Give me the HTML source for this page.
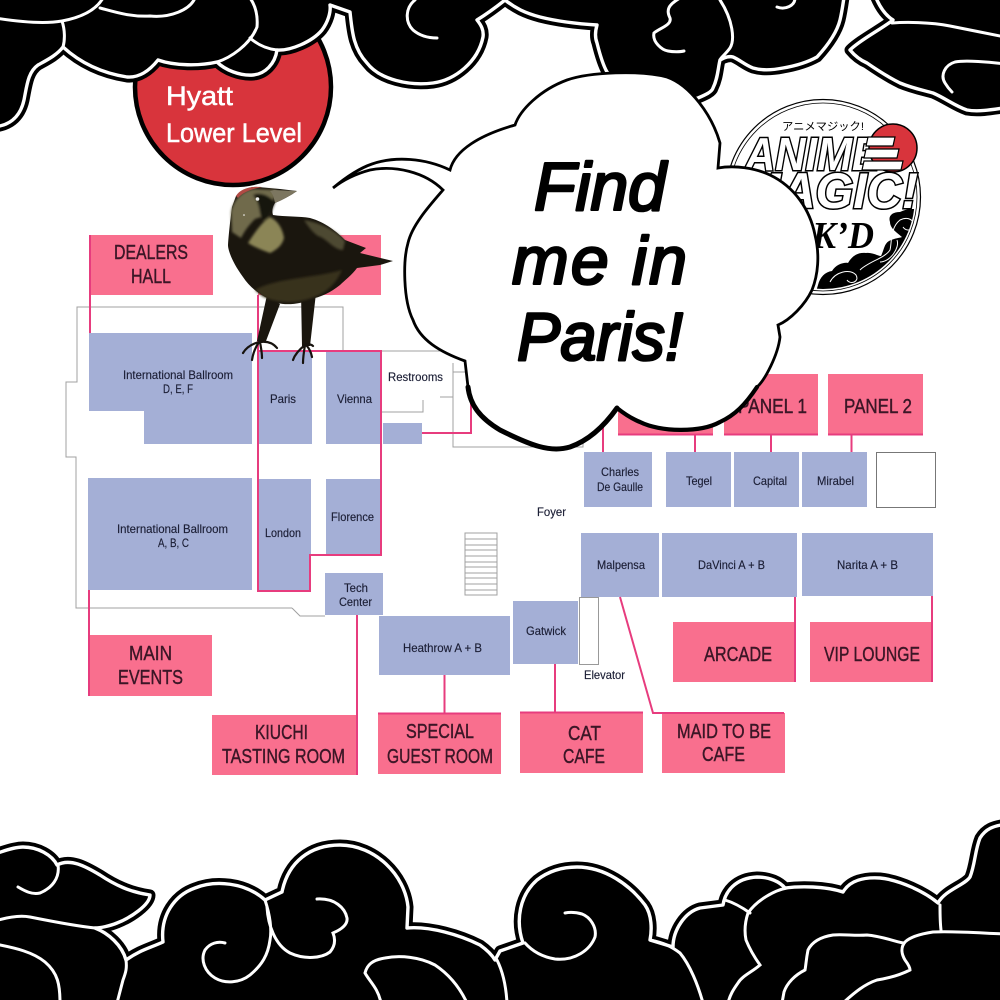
<!DOCTYPE html>
<html><head><meta charset="utf-8"><title>Hyatt Lower Level</title>
<style>html,body{margin:0;padding:0;background:#fff}svg{display:block}
text{font-family:"Liberation Sans","Noto Sans CJK JP",sans-serif}
.r{font-size:12px;fill:#1b1e35;stroke:#1b1e35;stroke-width:.15}
.p{font-size:20px;fill:#3b1626;stroke:#3b1626;stroke-width:.4}
.l{fill:none;stroke:#e73c7e;stroke-width:2}
.g{fill:none;stroke:#a0a0a0;stroke-width:1;shape-rendering:crispEdges}
.b{fill:#a4afd6}.k{fill:#f96f8e}
.w{fill:none;stroke:#fff;stroke-width:3;stroke-linecap:round}
.s{fill:#000;stroke:#000;stroke-width:11;stroke-linejoin:round}
.t{fill:#000;stroke:#fff;stroke-width:3.4;stroke-linejoin:round}
.f{font-style:italic;font-size:68px;fill:#000;stroke:#000;stroke-width:2.6;stroke-linejoin:round}
.h{font-size:27px;fill:#fff;stroke:#fff;stroke-width:.5}
</style></head><body>
<svg width="1000" height="1000" viewBox="0 0 1000 1000" xmlns="http://www.w3.org/2000/svg">
<defs>
<filter id="bl" x="-10%" y="-10%" width="120%" height="120%"><feGaussianBlur stdDeviation="1.2"/></filter>
<clipPath id="ring"><circle cx="823" cy="197" r="92"/></clipPath>
<path id="bc" d="M-10,856 C5,850 15,847 23,847 C38,847 52,855 57,865 C70,858 85,866 100,875 C115,885 130,892 150,895 C150,905 130,918 117,923 C110,926 100,928 95,928 C108,933 122,945 126,960 C140,950 150,948 163,942 C160,915 175,895 195,888 C215,880 245,882 265,900 L282,892 C288,862 310,845 340,845 C375,845 405,875 408,907 L407,928 C430,926 460,935 480,945 C487,950 492,955 495,960 L500,951 L523,943 C515,920 520,895 537,880 C550,870 565,867 577,867 C605,867 630,885 645,905 C652,915 652,930 650,940 L673,947 C673,930 685,912 700,908 L723,905 C725,892 735,878 757,877 C770,877 780,882 785,888 C800,886 825,886 843,892 C850,880 865,877 880,878 C900,880 925,892 938,903 C945,890 965,885 970,877 C975,865 975,850 980,838 C985,830 992,825 1010,824 L1010,1010 L-10,1010 Z"/>
<path id="tc1" d="M-10,127 C8,127 20,118 24,100 C27,85 28,72 38,65 C47,60 57,55 63,47 C75,58 95,72 127,77 C140,78 150,70 158,60 C175,66 200,66 217,62 C225,70 240,76 253,75 C265,74 275,64 277,50 C290,51 312,42 322,30 C328,22 331,12 330,5 L350,12 C352,30 353,48 367,63 C380,80 410,86 433,83 C455,80 478,62 483,37 C484,30 481,25 477,20 C485,15 495,8 505,0 C515,8 525,13 540,17 C560,22 580,24 597,25 C595,32 595,38 597,43 C600,55 603,65 607,72 C620,88 640,110 698,98 C705,95 712,92 713,88 C718,78 718,68 720,60 C725,57 730,56 733,57 C740,60 745,65 753,68 C763,71 773,70 783,68 C795,66 808,62 817,57 C828,45 837,32 840,20 C842,12 843,5 845,-10 L-10,-10 Z"/>
<path id="tc2" d="M873,-10 C878,5 885,15 893,20 C880,30 860,40 850,50 C855,56 860,60 867,63 C880,72 890,78 900,83 C912,88 922,90 933,93 C945,98 955,106 967,110 C978,112 990,110 1010,107 L1010,-10 Z"/>
</defs>
<rect width="1000" height="1000" fill="#fff"/>

<!-- gray plan lines -->
<path class="g" d="M343,350 L343,307 L77,307 L77,382 L66,382 L66,457 L76,457 L76,608 L292,608"/>
<path d="M292,608 L300,616 L325,616" fill="none" stroke="#a0a0a0"/>
<path class="g" d="M343,351 L466,351 M381,412 L423,412 L423,400 M440,397 L453,397 M453,363 L453,447 L583,447 L583,440 M453,372 L466,372"/>
<path class="g" d="M465,533 H497 V595 H465 Z M465,539 H497 M465,545 H497 M465,550 H497 M465,556 H497 M465,562 H497 M465,567 H497 M465,573 H497 M465,578 H497 M465,584 H497 M465,590 H497"/>

<!-- pink label boxes -->
<rect class="k" x="89" y="235" width="124" height="60"/>
<rect class="k" x="258" y="235" width="123" height="60"/>
<rect class="k" x="88" y="635" width="124" height="61"/>
<rect class="k" x="212" y="715" width="145" height="60"/>
<rect class="k" x="378" y="713" width="123" height="61"/>
<rect class="k" x="520" y="712" width="123" height="61"/>
<rect class="k" x="662" y="713" width="123" height="60"/>
<rect class="k" x="673" y="622" width="123" height="60"/>
<rect class="k" x="810" y="622" width="123" height="60"/>
<rect class="k" x="618" y="374" width="95" height="61"/>
<rect class="k" x="724" y="374" width="94" height="61"/>
<rect class="k" x="828" y="374" width="95" height="61"/>

<!-- blue rooms -->
<path class="b" d="M89,333 H252 V444 H144 V411 H89 Z"/>
<rect class="b" x="258" y="351" width="54" height="93"/>
<rect class="b" x="326" y="351" width="55" height="93"/>
<rect class="b" x="383" y="423" width="39" height="21"/>
<rect class="b" x="88" y="478" width="164" height="112"/>
<rect class="b" x="258" y="479" width="53" height="111"/>
<rect class="b" x="326" y="479" width="55" height="75"/>
<rect class="b" x="325" y="573" width="58" height="42"/>
<rect class="b" x="379" y="616" width="131" height="59"/>
<rect class="b" x="513" y="601" width="65" height="63"/>
<rect class="b" x="581" y="533" width="78" height="64"/>
<rect class="b" x="662" y="533" width="135" height="64"/>
<rect class="b" x="802" y="533" width="131" height="63"/>
<rect class="b" x="584" y="452" width="68" height="55"/>
<rect class="b" x="666" y="452" width="65" height="55"/>
<rect class="b" x="734" y="452" width="65" height="55"/>
<rect class="b" x="802" y="452" width="65" height="55"/>
<rect x="876.500" y="452.500" width="59" height="55" fill="#fff" stroke="#777" stroke-width="1"/>
<rect x="579.500" y="597.500" width="19" height="67" fill="#fff" stroke="#999" stroke-width="1"/>

<!-- pink connectors -->
<path class="l" d="M90,235 V333 M258,295 V591 H310 V555 H381 V351 H258 M89,590 V696 M357,615 V775 M444.500,675 V713 M378,713.500 H501 M555,664 V712 M520,712.500 H643 M620,597 L653,713 H784 M795,597 V682 M932,596 V682 M422,433 H471 V400 M603,425 V452 M695,434 V452 M771,434 V452 M851.500,434 V452 M618,434.500 H713 M724,434.500 H818 M828,434.500 H923"/>

<!-- room labels -->
<text class="r" x="123" y="379" textLength="110" lengthAdjust="spacingAndGlyphs">International Ballroom</text>
<text class="r" x="163" y="393" textLength="30" lengthAdjust="spacingAndGlyphs">D, E, F</text>
<text class="r" x="270" y="403" textLength="26" lengthAdjust="spacingAndGlyphs">Paris</text>
<text class="r" x="337" y="403" textLength="35" lengthAdjust="spacingAndGlyphs">Vienna</text>
<text class="r" x="388" y="381" textLength="55" lengthAdjust="spacingAndGlyphs">Restrooms</text>
<text class="r" x="117" y="533" textLength="111" lengthAdjust="spacingAndGlyphs">International Ballroom</text>
<text class="r" x="158" y="547" textLength="31" lengthAdjust="spacingAndGlyphs">A, B, C</text>
<text class="r" x="265" y="537" textLength="36" lengthAdjust="spacingAndGlyphs">London</text>
<text class="r" x="331" y="521" textLength="43" lengthAdjust="spacingAndGlyphs">Florence</text>
<text class="r" x="344" y="592" textLength="24" lengthAdjust="spacingAndGlyphs">Tech</text>
<text class="r" x="339" y="606" textLength="33" lengthAdjust="spacingAndGlyphs">Center</text>
<text class="r" x="403" y="652" textLength="79" lengthAdjust="spacingAndGlyphs">Heathrow A + B</text>
<text class="r" x="526" y="635" textLength="40" lengthAdjust="spacingAndGlyphs">Gatwick</text>
<text class="r" x="597" y="569" textLength="48" lengthAdjust="spacingAndGlyphs">Malpensa</text>
<text class="r" x="698" y="569" textLength="67" lengthAdjust="spacingAndGlyphs">DaVinci A + B</text>
<text class="r" x="837" y="569" textLength="61" lengthAdjust="spacingAndGlyphs">Narita A + B</text>
<text class="r" x="601" y="476" textLength="38" lengthAdjust="spacingAndGlyphs">Charles</text>
<text class="r" x="597" y="491" textLength="46" lengthAdjust="spacingAndGlyphs">De Gaulle</text>
<text class="r" x="686" y="485" textLength="26" lengthAdjust="spacingAndGlyphs">Tegel</text>
<text class="r" x="753" y="485" textLength="34" lengthAdjust="spacingAndGlyphs">Capital</text>
<text class="r" x="817" y="485" textLength="37" lengthAdjust="spacingAndGlyphs">Mirabel</text>
<text class="r" x="537" y="516" textLength="29" lengthAdjust="spacingAndGlyphs">Foyer</text>
<text class="r" x="584" y="679" textLength="41" lengthAdjust="spacingAndGlyphs">Elevator</text>

<!-- pink labels -->
<text class="p" x="114" y="259" textLength="74" lengthAdjust="spacingAndGlyphs">DEALERS</text>
<text class="p" x="131" y="283" textLength="40" lengthAdjust="spacingAndGlyphs">HALL</text>
<text class="p" x="129" y="660" textLength="43" lengthAdjust="spacingAndGlyphs">MAIN</text>
<text class="p" x="118" y="684" textLength="65" lengthAdjust="spacingAndGlyphs">EVENTS</text>
<text class="p" x="255" y="739" textLength="53" lengthAdjust="spacingAndGlyphs">KIUCHI</text>
<text class="p" x="222" y="763" textLength="123" lengthAdjust="spacingAndGlyphs">TASTING ROOM</text>
<text class="p" x="406" y="738" textLength="68" lengthAdjust="spacingAndGlyphs">SPECIAL</text>
<text class="p" x="387" y="763" textLength="106" lengthAdjust="spacingAndGlyphs">GUEST ROOM</text>
<text class="p" x="568" y="740" textLength="33" lengthAdjust="spacingAndGlyphs">CAT</text>
<text class="p" x="563" y="763" textLength="42" lengthAdjust="spacingAndGlyphs">CAFE</text>
<text class="p" x="677" y="738" textLength="94" lengthAdjust="spacingAndGlyphs">MAID TO BE</text>
<text class="p" x="702" y="761" textLength="43" lengthAdjust="spacingAndGlyphs">CAFE</text>
<text class="p" x="704" y="661" textLength="68" lengthAdjust="spacingAndGlyphs">ARCADE</text>
<text class="p" x="824" y="661" textLength="96" lengthAdjust="spacingAndGlyphs">VIP LOUNGE</text>
<text class="p" x="738" y="413" textLength="69" lengthAdjust="spacingAndGlyphs">PANEL 1</text>
<text class="p" x="844" y="413" textLength="68" lengthAdjust="spacingAndGlyphs">PANEL 2</text>

<!-- red circle -->
<circle cx="233" cy="87" r="98" fill="#d8343c" stroke="#000" stroke-width="4.500"/>
<text class="h" x="166" y="105" textLength="67" lengthAdjust="spacingAndGlyphs">Hyatt</text>
<text class="h" x="166" y="142" textLength="136" lengthAdjust="spacingAndGlyphs">Lower Level</text>

<!-- top clouds -->
<use href="#tc1" class="s"/><use href="#tc2" class="s"/>
<use href="#tc1" class="t"/><use href="#tc2" class="t"/>
<path class="w" d="M-5,18 C20,22 45,24 62,21 C78,18 95,12 103,-2 M62,21 C65,30 65,40 63,47 M100,8 C115,12 130,17 150,16 C170,18 190,10 195,-2 M250,38 C258,45 268,49 277,50 M217,62 C230,58 250,45 257,27 C258,15 255,5 250,-2 M415,0 C405,8 405,22 413,30 C420,36 428,38 437,38 M680,-2 C668,5 666,10 670,18 C672,25 660,28 654,33 C652,42 662,50 668,51 C673,52 680,52 684,51 M720,0 C733,20 735,40 730,48 C725,55 720,58 720,60 M777,7 C785,10 795,6 795,-2 M892,23 C905,22 930,22 950,26 C970,30 985,33 1005,37 M1005,64 C990,62 965,60 955,62 C945,65 940,75 945,83 C948,88 950,90 952,92"/>

<!-- bottom clouds -->
<use href="#bc" class="s"/><use href="#bc" class="t"/>
<path class="w" d="M58,865 C60,878 52,888 40,893 C32,895 25,891 18,887 M-5,921 C8,917 20,915 30,917 C50,921 75,926 95,928 M126,960 C127,968 126,972 123,980 L117,1003 M0,945 C15,948 33,952 45,962 C58,973 60,985 60,1003 M265,900 C270,915 272,930 270,940 C268,955 262,965 250,975 C240,983 225,984 215,978 C205,972 200,960 205,950 C210,943 218,941 225,943 M267,907 C268,925 275,945 290,953 C305,960 322,958 330,952 C336,945 335,938 333,933 C340,930 348,925 347,918 C345,908 335,898 317,899 M497,960 C503,972 506,985 507,1003 M365,973 C367,965 372,960 385,958 C400,955 420,957 435,965 C450,975 460,988 467,1003 M365,973 C370,982 378,988 381,1003 M650,940 C665,943 672,947 680,953 C690,965 698,985 703,1003 M525,943 C533,952 543,957 555,959 C575,961 590,950 595,937 C597,927 590,917 582,914 C575,912 570,912 565,913 M725,900 C735,903 743,908 750,913 M787,888 C775,890 757,900 748,913 C745,922 744,930 746,940 C750,950 755,958 760,965 C752,972 742,976 738,983 C733,990 730,995 728,1003 M940,905 C940,915 940,922 941,930 M903,943 C890,940 880,936 867,935 C855,936 843,934 833,935 C820,937 812,942 808,950 C806,960 806,965 805,970 C795,975 787,983 784,992 L782,1003 M1005,934 C980,933 955,931 933,932 C920,934 910,937 905,942 C900,948 902,955 905,960 C908,964 910,967 910,970 C900,975 890,978 877,980 C865,984 855,992 843,1003"/>

<!-- crow -->
<g>
<path fill="#1a160e" d="M267,295 L280,304 L266,341 L257,341 Z M301,292 L316,293 L310,346 L302,346 Z"/>
<path fill="#1a160e" d="M236,196 C241,190 250,186 258,187 L280,189 L297,191 C290,196 282,200 275,203 C272,207 272,212 273,215 C285,217 300,216 310,218 C325,222 337,232 345,240 L366,248 L360,253 L393,261 L380,265 L357,268 C352,275 345,280 340,285 C330,293 322,296 315,298 C300,305 285,305 278,303 C262,297 250,288 243,277 C232,262 228,250 228,245 C229,230 231,215 232,207 Z"/>
<g filter="url(#bl)">
<path fill="#6f6a4c" d="M231,212 C234,198 244,190 254,189 L277,190 C274,198 271,208 270,214 L255,219 C250,224 245,230 241,238 L232,232 Z"/>
<path fill="#8b8557" d="M248,243 C255,232 262,222 270,217 C276,220 282,226 284,238 C282,246 276,250 270,253 C262,250 254,247 248,243 Z"/>
<path fill="#17130e" d="M253,195 C258,192 268,194 275,202 C272,210 270,216 264,221 C258,218 262,205 253,195 Z"/>
<path fill="#4d4832" d="M304,220 C322,223 338,232 345,241 L343,250 C334,250 326,238 318,236 C312,232 308,226 304,220 Z"/>
<path fill="#38331a" d="M255,290 C275,278 315,278 342,270 C336,284 325,294 312,298 C295,304 275,303 262,296 Z"/>
</g>
<path fill="#7c7660" d="M274,190 L297,191 C290,196 282,200 275,203 C274,198 273,194 270,191 Z"/>
<path fill="#b04a44" d="M236,196 C240,189 250,186 262,187 C252,189 243,192 238,198 Z"/>
<circle cx="257.500" cy="199" r="1.800" fill="#eee"/>
<circle cx="244" cy="215" r="0.800" fill="#fff"/>
<path fill="none" stroke="#17130e" stroke-width="2.200" stroke-linecap="round" d="M259,342 C252,344 246,348 243,353 M259,342 C255,348 253,353 252,360 M260,342 C261,348 262,352 262,358 M260,342 C267,341 273,343 277,348 M305,345 C300,349 295,354 293,360 M305,345 C304,351 303,357 303,363 M306,345 C309,348 311,352 312,357 M306,344 C309,344 312,345 313,346"/>
</g>

<!-- logo -->
<circle cx="823" cy="197" r="97.500" fill="#fff" stroke="#000" stroke-width="1.200"/>
<circle cx="823" cy="197" r="94" fill="#fff" stroke="#000" stroke-width="0.800"/>
<g clip-path="url(#ring)">
<path fill="#000" d="M815,295 L818,285 C820,277 825,272 832,271 C836,264 845,262 848,263 C852,256 858,252 866,253 C872,252 878,256 881,256 C884,250 884,244 889,241 C895,238 900,238 902,237 C896,232 890,228 890,222 C888,216 892,212 900,212 C906,209 912,208 925,210 L925,300 Z"/>
<path fill="none" stroke="#fff" stroke-width="1" d="M830,282 C835,272 850,268 856,275 C860,282 850,285 847,280 M860,270 C868,262 885,258 890,250 C892,242 890,228 900,220 C908,216 915,220 913,227 C910,232 905,230 903,227 M880,262 C890,262 900,248 897,240 M905,245 C900,252 910,258 916,240"/>
</g>
<circle cx="893" cy="148" r="24" fill="#d8343c" stroke="#000" stroke-width="1.500"/>
<text x="782" y="130" font-size="11" fill="#000" textLength="82" lengthAdjust="spacingAndGlyphs">アニメマジック!</text>
<text x="745" y="170" font-size="46" font-weight="bold" font-style="italic" fill="#fff" stroke="#000" stroke-width="3" paint-order="stroke" textLength="135" lengthAdjust="spacingAndGlyphs">ANIME</text>
<path fill="#fff" stroke="#000" stroke-width="1.200" d="M868,137 H895 L893,146 H866 Z M866,149 H899 L897,158 H864 Z M864,161 H903 L901,170 H862 Z"/>
<text x="740" y="208" font-size="50" font-weight="bold" font-style="italic" fill="#fff" stroke="#000" stroke-width="3" paint-order="stroke" textLength="178" lengthAdjust="spacingAndGlyphs">MAGIC!</text>
<text x="812" y="248" font-size="38" font-weight="bold" font-style="italic" fill="#000" style="font-family:'Liberation Serif',serif" textLength="62" lengthAdjust="spacingAndGlyphs">K’D</text>

<!-- speech bubble -->
<path fill="#fff" stroke="#000" stroke-width="2.800" stroke-linejoin="miter" d="M333,188 C345,178 360,168 372,164 C395,156 425,158 450,170 C455,150 480,135 515,125 C520,110 540,90 567,80 C590,72 640,70 667,77 C690,85 712,115 720,143 L718,168 C735,165 755,168 770,175 C795,187 810,210 815,235 C820,255 818,275 812,290 C805,305 790,320 778,325 L780,337 C778,355 765,380 757,387 C745,405 735,415 720,422 C700,433 660,432 640,422 C630,418 622,412 617,408 C605,425 590,440 570,447 C550,453 530,445 500,430 C480,418 470,405 468,387 L465,361 C440,352 420,340 413,320 C403,300 403,260 408,243 C412,225 430,205 443,190 C425,172 395,165 370,170 C355,174 343,180 333,188 Z"/>
<path fill="none" stroke="#000" stroke-width="5" stroke-linecap="round" d="M468,387 C470,405 480,418 500,430 C530,445 550,453 570,447 C590,440 605,425 617,408"/>
<path fill="none" stroke="#000" stroke-width="4.200" stroke-linecap="round" d="M617,408 C622,412 630,418 640,422 C660,432 700,433 720,422 C735,415 745,405 757,387"/>
<text class="f" x="534" y="210" textLength="132">Find</text>
<text class="f" x="512" y="284" textLength="175">me in</text>
<text class="f" x="517" y="360" textLength="166" lengthAdjust="spacingAndGlyphs">Paris!</text>
</svg>
</body></html>
